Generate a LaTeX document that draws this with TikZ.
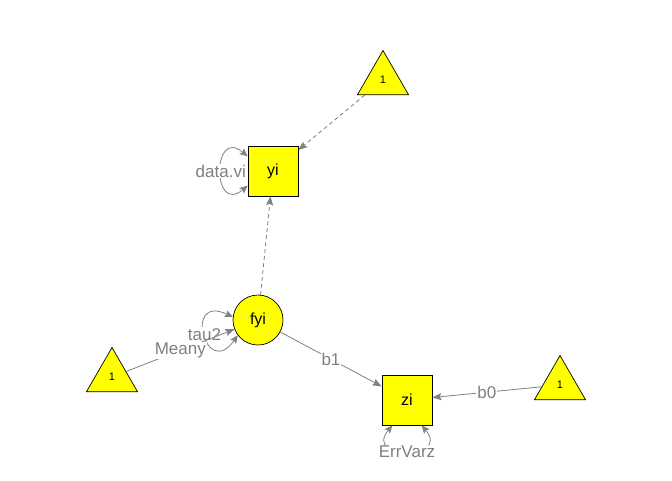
\documentclass[tikz,border=0pt]{standalone}
\usepackage{fontspec}
\setmainfont{Liberation Sans}
\usetikzlibrary{shapes.geometric,arrows.meta}
\definecolor{edgegray}{RGB}{128,128,128}
\definecolor{nodeyellow}{RGB}{255,255,0}

\begin{document}
\begin{tikzpicture}[x=1pt,y=-1pt,
    manifest/.style={draw=black,line width=0.7pt,fill=nodeyellow,rectangle,
      minimum size=50pt,inner sep=0pt,font=\fontsize{16}{18}\selectfont},
    latent/.style={draw=black,line width=0.7pt,fill=nodeyellow,circle,
      minimum size=50pt,inner sep=0pt,font=\fontsize{16}{18}\selectfont},
    intercept/.style={draw=black,line width=0.7pt,fill=nodeyellow,
      regular polygon,regular polygon sides=3,minimum size=59pt,inner sep=0pt,
      font=\fontsize{11}{13}\selectfont},
    edge/.style={draw=edgegray,line width=0.8pt,
      -{Stealth[length=9pt,width=7pt,inset=1.5pt]},color=edgegray},
    dashedge/.style={edge,dash pattern=on 4pt off 3pt},
    varloop/.style={draw=edgegray,line width=0.8pt,color=edgegray,
      {Stealth[length=8pt,width=7pt,inset=1.5pt]}-{Stealth[length=8pt,width=7pt,inset=1.5pt]}},
    elabel/.style={fill=white,text=edgegray,inner sep=1pt,
      font=\fontsize{17}{19}\selectfont}]

    \useasboundingbox (0,0) rectangle (672,480);

    \node[manifest] (yi) at (273,171) {yi};
    \node[latent] (fyi) at (258,320) {fyi};
    \node[manifest] (zi) at (407,400) {zi};
    \node[intercept] (oneA) at (383,80) {1};
    \node[intercept] (oneB) at (112,377) {1};
    \node[intercept] (oneC) at (560,385) {1};

    % variances
    \draw[varloop] (yi.150) to[out=140,in=220,looseness=4.1] node[elabel] {data.vi} (yi.210);
    \draw[varloop] (fyi.173) to[out=155,in=235,looseness=7.5] node[elabel] {tau2} (fyi.217);
    \draw[varloop] (zi.240) to[out=230,in=310,looseness=4] node[elabel] {ErrVarz} (zi.300);

    % paths
    \draw[dashedge] (oneA) -- (yi);
    \draw[dashedge] (fyi) -- (yi);
    \draw[edge] (fyi) -- node[elabel] {b1} (zi);
    \draw[edge] (oneC) -- node[elabel] {b0} (zi);
    \draw[edge] (oneB) -- node[elabel] {Meany} (fyi);
  \end{tikzpicture}
\end{document}
